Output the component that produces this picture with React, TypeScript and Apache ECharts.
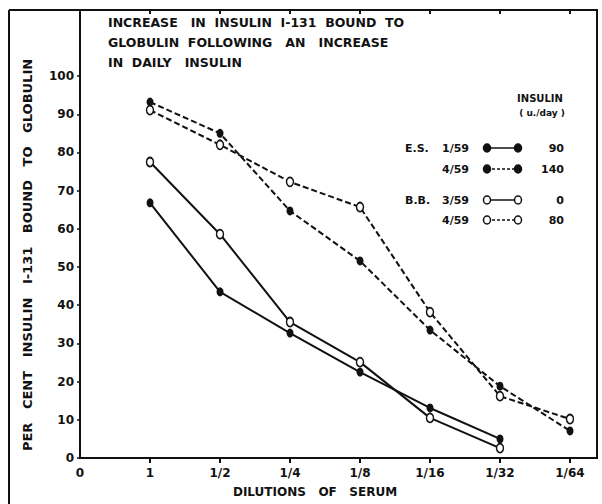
import React, { useEffect, useRef } from "react";
import * as echarts from "echarts";

const xTickLabels = ["0", "1", "1/2", "1/4", "1/8", "1/16", "1/32", "1/64"];
const yTickValues = [0, 10, 20, 30, 40, 50, 60, 70, 80, 90, 100];

const xEs159 = [1, 2, 3, 4, 5, 6];
const es159 = [66.8, 43.5, 32.7, 22.5, 13.1, 5.0];
const xEs459 = [1, 2, 3, 4, 5, 6, 7];
const es459 = [93.2, 85.0, 64.7, 51.6, 33.5, 18.8, 7.1];
const xBb359 = [1, 2, 3, 4, 5, 6];
const bb359 = [77.5, 58.6, 35.6, 25.1, 10.5, 2.6];
const xBb459 = [1, 2, 3, 4, 5, 6, 7];
const bb459 = [91.1, 82.0, 72.3, 65.7, 38.2, 16.2, 10.2];

const legendRows = [
  { patient: "E.S.", date: "1/59", filled: true, dashed: false, dose: "90" },
  { patient: "", date: "4/59", filled: true, dashed: true, dose: "140" },
  { patient: "B.B.", date: "3/59", filled: false, dashed: false, dose: "0" },
  { patient: "", date: "4/59", filled: false, dashed: true, dose: "80" },
];

const titleLines = [
  "INCREASE   IN  INSULIN  I-131  BOUND  TO",
  "GLOBULIN  FOLLOWING   AN   INCREASE",
  "IN  DAILY   INSULIN",
];
const yAxisTitle = "PER   CENT   INSULIN   I-131   BOUND   TO   GLOBULIN";
const xAxisTitle = "DILUTIONS   OF   SERUM";

const INK = "#111";
const FONT = "DejaVu Sans";

function zip(xs: number[], ys: number[]) {
  return xs.map((x, i) => [x, ys[i]]);
}

export default function App() {
  const ref = useRef<HTMLDivElement>(null);
  useEffect(() => {
    if (!ref.current) return;
    const chart = echarts.init(ref.current, null, { renderer: "svg" });
    const rowY = [148, 169, 200, 220];
    const graphics: any[] = [];
    graphics.push({ type: "line", shape: { x1: 9, y1: 10, x2: 9, y2: 504 }, style: { stroke: INK, lineWidth: 2 } });
    graphics.push({ type: "line", shape: { x1: 9, y1: 10, x2: 597, y2: 10 }, style: { stroke: INK, lineWidth: 2 } });
    titleLines.forEach((t, i) => {
      graphics.push({
        type: "text",
        x: 108,
        y: 22 + i * 20,
        style: { text: t, fill: INK, font: `bold 12.5px "${FONT}"`, textVerticalAlign: "middle" },
      });
    });
    graphics.push({
      type: "text", x: 27, y: 255, rotation: Math.PI / 2,
      style: { text: yAxisTitle, fill: INK, font: `bold 13px "${FONT}"`, textAlign: "center", textVerticalAlign: "middle" },
    });
    graphics.push({
      type: "text", x: 315, y: 492,
      style: { text: xAxisTitle, fill: INK, font: `bold 12px "${FONT}"`, textAlign: "center", textVerticalAlign: "middle" },
    });
    graphics.push({
      type: "text", x: 540, y: 98,
      style: { text: "INSULIN", fill: INK, font: `bold 10px "${FONT}"`, textAlign: "center", textVerticalAlign: "middle" },
    });
    graphics.push({
      type: "text", x: 542, y: 113,
      style: { text: "( u./day )", fill: INK, font: `bold 9px "${FONT}"`, textAlign: "center", textVerticalAlign: "middle" },
    });
    legendRows.forEach((r, i) => {
      const y = rowY[i];
      if (r.patient) {
        graphics.push({ type: "text", x: 405, y, style: { text: r.patient, fill: INK, font: `bold 11px "${FONT}"`, textVerticalAlign: "middle" } });
      }
      graphics.push({ type: "text", x: 442, y, style: { text: r.date, fill: INK, font: `bold 11px "${FONT}"`, textVerticalAlign: "middle" } });
      graphics.push({
        type: "line", shape: { x1: 487, y1: y, x2: 518, y2: y },
        style: { stroke: INK, lineWidth: 1.5, lineDash: r.dashed ? [3, 2] : null },
      });
      [487, 518].forEach((cx) => {
        graphics.push({
          type: "ellipse", shape: { cx, cy: y, rx: 3.5, ry: 4 },
          style: { fill: r.filled ? INK : "#fff", stroke: INK, lineWidth: 1.5 },
        });
      });
      graphics.push({ type: "text", x: 564, y, style: { text: r.dose, fill: INK, font: `bold 11px "${FONT}"`, textAlign: "right", textVerticalAlign: "middle" } });
    });

    const lineSeries = (name: string, data: number[][], filled: boolean, dashed: boolean) => ({
      name,
      type: "line",
      data,
      symbol: "circle",
      symbolSize: [7, 9],
      showSymbol: true,
      z: filled ? 3 : 4,
      lineStyle: { color: INK, width: 2, type: dashed ? [6, 3] : "solid" },
      itemStyle: { color: filled ? INK : "#fff", borderColor: INK, borderWidth: filled ? 0 : 1.6 },
    });

    chart.setOption({
      animation: false,
      backgroundColor: "#fff",
      grid: { left: 80, right: 5, top: 10, bottom: 46, show: true, borderColor: INK, borderWidth: 2 },
      xAxis: [
        {
          type: "value",
          min: 0,
          max: 7.386,
          interval: 1,
          position: "bottom",
          axisLine: { show: true, lineStyle: { color: INK, width: 2 } },
          axisTick: { show: true, length: 5, inside: false, customValues: [1, 2, 3, 4, 5, 6, 7], lineStyle: { color: INK, width: 2 } },
          axisLabel: {
            customValues: [0, 1, 2, 3, 4, 5, 6, 7],
            formatter: (v: number) => xTickLabels[Math.round(v)] ?? "",
            color: INK, fontFamily: FONT, fontWeight: "bold", fontSize: 12, margin: 9,
          },
          splitLine: { show: false },
        },
        {
          type: "value",
          min: 0,
          max: 7.386,
          interval: 1,
          position: "top",
          axisLine: { show: true, lineStyle: { color: INK, width: 2 } },
          axisTick: { show: true, length: 4, inside: true, customValues: [1, 2, 3, 4, 5, 6, 7], lineStyle: { color: INK, width: 2 } },
          axisLabel: { show: false },
          splitLine: { show: false },
        },
      ],
      yAxis: {
        type: "value",
        min: 0,
        max: 117.3,
        interval: 10,
        axisLine: { show: true, lineStyle: { color: INK, width: 2 } },
        axisTick: { show: true, length: 3, inside: false, customValues: yTickValues, lineStyle: { color: INK, width: 1.5 } },
        axisLabel: { customValues: yTickValues, color: INK, fontFamily: FONT, fontWeight: "bold", fontSize: 12, margin: 6 },
        splitLine: { show: false },
      },
      series: [
        lineSeries("E.S. 1/59", zip(xEs159, es159), true, false),
        lineSeries("E.S. 4/59", zip(xEs459, es459), true, true),
        lineSeries("B.B. 3/59", zip(xBb359, bb359), false, false),
        lineSeries("B.B. 4/59", zip(xBb459, bb459), false, true),
      ],
      graphic: graphics,
    });
    return () => chart.dispose();
  }, []);
  return <div ref={ref} style={{ width: 602, height: 504, position: "absolute", left: 0, top: 0 }} />;
}
